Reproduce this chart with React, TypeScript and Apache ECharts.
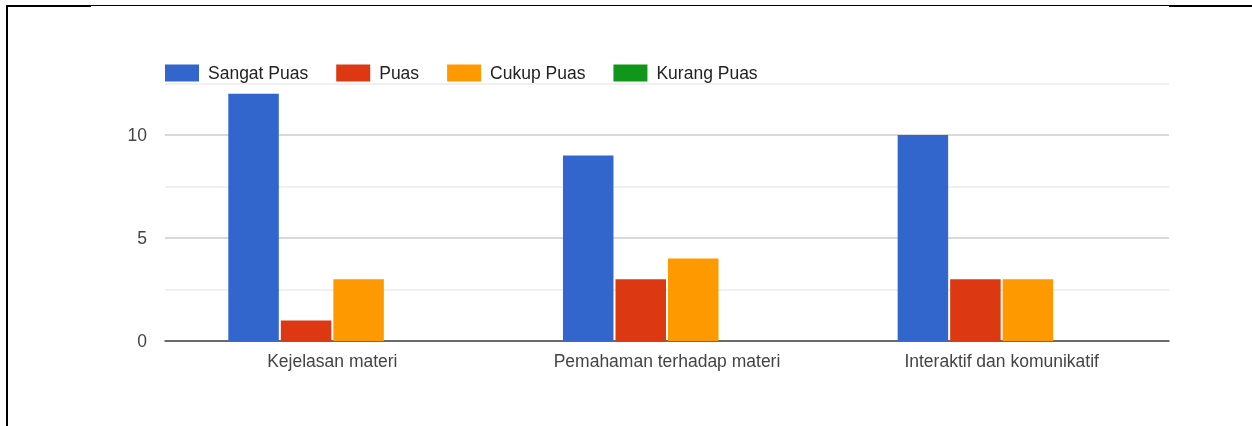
import React, { useEffect, useRef } from "react";
import * as echarts from "echarts";

const categories = ["Kejelasan materi", "Pemahaman terhadap materi", "Interaktif dan komunikatif"];
const seriesNames = ["Sangat Puas", "Puas", "Cukup Puas", "Kurang Puas"];
const sangatPuas = [12, 9, 10];
const puas = [1, 3, 3];
const cukupPuas = [3, 4, 3];
const kurangPuas = [0, 0, 0];
const colors = ["#3366cc", "#dc3912", "#ff9900", "#109618"];

const FONT = "'Liberation Sans', Arial, sans-serif";

export default function App() {
  const ref = useRef<HTMLDivElement>(null);
  useEffect(() => {
    if (!ref.current) return;
    const chart = echarts.init(ref.current, undefined, { renderer: "svg" });
    const values = [sangatPuas, puas, cukupPuas, kurangPuas];
    chart.setOption({
      animation: false,
      textStyle: { fontFamily: FONT },
      color: colors,
      legend: {
        left: 165,
        top: 64,
        padding: 0,
        itemWidth: 34,
        itemHeight: 17,
        itemGap: 28,
        icon: "rect",
        textStyle: { fontSize: 17.5, color: "#222", fontFamily: FONT, padding: [0, 0, 0, 4] },
        data: seriesNames,
      },
      grid: { left: 165, right: 83, top: 83.5, bottom: 85, containLabel: false },
      xAxis: {
        type: "category",
        data: categories,
        axisTick: { show: false },
        axisLine: { lineStyle: { color: "#444", width: 1.5 } },
        axisLabel: { fontSize: 17.5, color: "#444", margin: 11, fontFamily: FONT },
      },
      yAxis: {
        type: "value",
        min: 0,
        max: 12.5,
        interval: 2.5,
        axisLine: { show: false },
        axisTick: { show: false },
        axisLabel: {
          fontSize: 17.5,
          color: "#444",
          margin: 18,
          fontFamily: FONT,
          formatter: (v: number) => (v % 5 === 0 ? String(v) : ""),
        },
        splitLine: { lineStyle: { color: ["#cccccc", "#ebebeb"], width: 1.5 } },
      },
      series: seriesNames.map((name, i) => ({
        name,
        type: "bar",
        data: values[i],
        barWidth: 50.5,
        barGap: "4%",
        itemStyle: { color: colors[i] },
      })),
      graphic: [
        { type: "line", shape: { x1: 7, y1: 5, x2: 7, y2: 426 }, style: { stroke: "#000", lineWidth: 2 } },
        { type: "line", shape: { x1: 6, y1: 6, x2: 91, y2: 6 }, style: { stroke: "#000", lineWidth: 2 } },
        { type: "line", shape: { x1: 91, y1: 5.5, x2: 1169, y2: 5.5 }, style: { stroke: "#000", lineWidth: 1 } },
        { type: "line", shape: { x1: 1169, y1: 6, x2: 1252, y2: 6 }, style: { stroke: "#000", lineWidth: 2 } },
      ],
    });
    return () => chart.dispose();
  }, []);
  return <div ref={ref} style={{ position: "fixed", left: 0, top: 0, width: 1252, height: 426 }} />;
}
